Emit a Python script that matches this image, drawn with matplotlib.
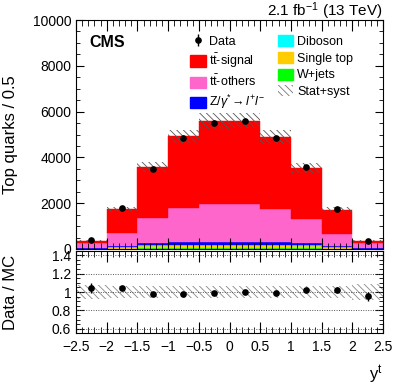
import numpy as np
import matplotlib
matplotlib.use("Agg")
import matplotlib.pyplot as plt
from matplotlib.patches import Patch
from matplotlib.ticker import MultipleLocator, FuncFormatter

plt.rcParams['font.family'] = ['Liberation Sans', 'DejaVu Sans']
plt.rcParams['mathtext.fontset'] = 'custom'
plt.rcParams['mathtext.rm'] = 'Liberation Sans'
plt.rcParams['mathtext.it'] = 'Liberation Sans:italic'
plt.rcParams['hatch.linewidth'] = 0.6

# ---- data ----
bin_edges = [-2.5, -2.0, -1.5, -1.0, -0.5, 0.0, 0.5, 1.0, 1.5, 2.0, 2.5]
wjets     = [5, 15, 25, 30, 30, 30, 30, 25, 15, 5]
singletop = [10, 60, 120, 140, 145, 145, 140, 120, 60, 10]
diboson   = [2, 5, 8, 10, 10, 10, 10, 8, 5, 2]
zjets     = [10, 60, 110, 110, 115, 115, 110, 110, 60, 10]
tt_others = [240, 555, 1090, 1480, 1660, 1660, 1450, 1035, 530, 240]
tt_signal = [93, 1041, 2216, 3145, 3630, 3640, 3147, 2227, 1053, 93]
data      = [374, 1810, 3480, 4826, 5520, 5600, 4843, 3597, 1767, 343]
rel_unc   = [0.08, 0.06, 0.06, 0.06, 0.06, 0.06, 0.06, 0.06, 0.06, 0.09]

edges = np.array(bin_edges)
centers = 0.5 * (edges[:-1] + edges[1:])
widths = np.diff(edges)

components = [
    (wjets, '#00ff00'),
    (singletop, '#ffcc00'),
    (diboson, '#00ffff'),
    (zjets, '#0000ff'),
    (tt_others, '#ff66cc'),
    (tt_signal, '#ff0000'),
]

W, H = 399, 387
fig = plt.figure(figsize=(W / 100, H / 100), dpi=100)

def fr(x0, y0, x1, y1):
    return [x0 / W, 1 - y1 / H, (x1 - x0) / W, (y1 - y0) / H]

ax = fig.add_axes(fr(76, 20, 383, 249))
axr = fig.add_axes(fr(76, 251, 383, 333))

HATCH = '\\\\\\\\\\'

bottom = np.zeros(len(centers))
for vals, col in components:
    v = np.array(vals, dtype=float)
    ax.bar(edges[:-1], v, width=widths, bottom=bottom, align='edge',
           color=col, edgecolor=col, linewidth=0.3)
    bottom += v
mc = bottom.copy()
unc = np.array(rel_unc) * mc

ax.bar(edges[:-1], 2 * unc, width=widths, bottom=mc - unc, align='edge',
       fill=False, hatch=HATCH, edgecolor='#555555', linewidth=0)

d = np.array(data, dtype=float)
eb = ax.errorbar(centers, d, yerr=np.sqrt(d), fmt='o', color='black',
                 markersize=3.8, elinewidth=1, capsize=0)

ax.set_xlim(-2.5, 2.5)
ax.set_ylim(0, 10000)
ax.yaxis.set_major_locator(MultipleLocator(2000))
ax.yaxis.set_minor_locator(MultipleLocator(500))
ax.xaxis.set_major_locator(MultipleLocator(0.5))
ax.xaxis.set_minor_locator(MultipleLocator(0.1))
ax.tick_params(axis='both', which='both', direction='in', top=True, right=True,
               labelsize=10)
ax.tick_params(axis='x', which='major', length=8)
ax.tick_params(axis='x', which='minor', length=4)
ax.tick_params(axis='y', which='major', length=6)
ax.tick_params(axis='y', which='minor', length=3)
ax.tick_params(axis='x', labelbottom=False)
ax.set_ylabel('Top quarks / 0.5', fontsize=12)
ax.yaxis.set_label_coords(-0.19, 0.5)

ax.text(0.045, 0.9, 'CMS', transform=ax.transAxes, fontsize=11.5,
        fontweight='bold', va='center', ha='left')
fig.text(383 / W, 1 - 11 / H, r'2.1 fb$^{-1}$ (13 TeV)', ha='right',
         va='center', fontsize=11)

handles = [
    eb,
    Patch(facecolor='#ff0000', edgecolor='#ff0000'),
    Patch(facecolor='#ff66cc', edgecolor='#ff66cc'),
    Patch(facecolor='#0000ff', edgecolor='#0000ff'),
    Patch(facecolor='#00ffff', edgecolor='#00ffff'),
    Patch(facecolor='#ffcc00', edgecolor='#ffcc00'),
    Patch(facecolor='#00ff00', edgecolor='#00ff00'),
    Patch(facecolor='none', edgecolor='#777777', hatch=HATCH, linewidth=0),
]
labels = ['Data', r't$\bar{\rm t}$-signal', r't$\bar{\rm t}$-others',
          r'Z/$\gamma^{*}\!\rightarrow l^{+}l^{-}$',
          'Diboson', 'Single top', 'W+jets', 'Stat+syst']
leg = ax.legend(handles, labels, ncol=2, loc='upper left',
                bbox_to_anchor=(0.355, 0.955), frameon=False, fontsize=9,
                handlelength=1.25, handleheight=1.0, handletextpad=0.3,
                columnspacing=1.0, labelspacing=0.3, borderaxespad=0)

# ratio panel
ratio = d / mc
rerr = np.sqrt(d) / mc
axr.bar(edges[:-1], 2 * np.array(rel_unc), width=widths,
        bottom=1 - np.array(rel_unc), align='edge', fill=False,
        hatch=HATCH, edgecolor='#888888', linewidth=0)
for yv in [0.6, 0.8, 1.0, 1.2, 1.4]:
    axr.axhline(yv, color='#555555', linestyle=(0, (1, 1.5)), linewidth=0.7)
axr.errorbar(centers, ratio, yerr=rerr, fmt='o', color='black',
             markersize=3.8, elinewidth=1, capsize=0)
axr.set_xlim(-2.5, 2.5)
axr.set_ylim(0.555, 1.445)
axr.yaxis.set_major_locator(MultipleLocator(0.2))
axr.yaxis.set_minor_locator(MultipleLocator(0.05))
axr.yaxis.set_major_formatter(FuncFormatter(lambda v, p: '%g' % round(v, 2)))
axr.xaxis.set_major_locator(MultipleLocator(0.5))
axr.xaxis.set_minor_locator(MultipleLocator(0.1))
axr.xaxis.set_major_formatter(FuncFormatter(
    lambda v, p: ('%g' % round(v, 2)).replace('-', '\u2212')))
axr.tick_params(axis='both', which='both', direction='in', top=True,
                right=True, labelsize=10)
axr.tick_params(axis='x', which='major', length=8, pad=5)
axr.tick_params(axis='x', which='minor', length=4)
axr.tick_params(axis='y', which='major', length=6)
axr.tick_params(axis='y', which='minor', length=3)
axr.set_ylabel('Data / MC', fontsize=12)
axr.yaxis.set_label_coords(-0.19, 0.5)
axr.set_xlabel(r'y$^{\rm t}$', fontsize=12)
axr.xaxis.set_label_coords(1.0, -0.37)
axr.xaxis.label.set_horizontalalignment('right')

fig.savefig('out.png', dpi=100)
